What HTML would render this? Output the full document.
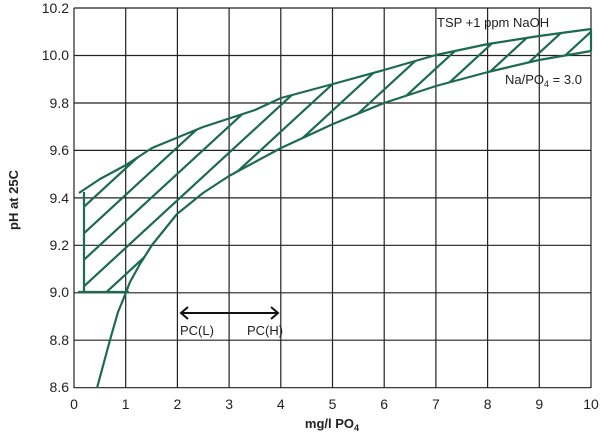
<!DOCTYPE html>
<html><head><style>
html,body{margin:0;background:#fff;overflow:hidden;width:600px;height:436px}
svg{display:block}
svg text{font-family:"Liberation Sans Narrow","Liberation Sans",sans-serif;fill:#222}
</style></head><body>
<svg width="600" height="436" viewBox="0 0 600 436" xmlns="http://www.w3.org/2000/svg">
<defs>
<clipPath id="reg"><path d="M84,292 L84,190 L100,179 L126,165 L152,148 L203,127 L255,110 L281,98 L333,84 L384,70 L436,55 L488,44 L539,36 L591,29 L591,51 L539,60 L488,72 L436,86 L384,103 L333,124 L281,148 L229,176 L203,193 L177,214 L152,245 L136,268 L123,292 Z"/></clipPath>
</defs>
<g stroke="#222" stroke-width="1.2" fill="none">
<path d="M74,8V388M125.7,8V388M177.4,8V388M229.1,8V388M280.8,8V388M332.5,8V388M384.2,8V388M435.9,8V388M487.6,8V388M539.3,8V388M591,8V388"/>
<path d="M74,8H591M74,55.5H591M74,103H591M74,150.4H591M74,197.9H591M74,245.3H591M74,292.8H591M74,340.2H591M74,387.7H591"/>
</g>
<g stroke="#1d6b4f" stroke-width="2.2" fill="none" stroke-linejoin="round">
<polyline points="79,193 100,179 126,165 152,148 203,127 255,110 281,98 333,84 384,70 436,55 488,44 539,36 591,29"/>
<polyline points="97,388 110,340 118,312 123,300 130,282 140,264 152,245 177,214 203,193 229,176 281,148 333,124 384,103 436,86 488,72 539,60 591,51"/>
<path d="M84,292V192M591,29V51M78,292H129"/>
<g clip-path="url(#reg)">
<path d="M0,284L700,-360M0,310.5L700,-333.5M0,337L700,-307M0,363.5L700,-280.5M0,390L700,-254M0,416.5L700,-227.5M0,443L700,-201M0,469.5L700,-174.5M0,496L700,-148M0,522.5L700,-121.5M0,549L700,-95M0,575.5L700,-68.5M0,602L700,-42"/>
</g>
</g>
<g stroke="#111" stroke-width="2" fill="none">
<path d="M181,313H278M188,307L181,313L188,319M271,307L278,313L271,319"/>
</g>
<g font-size="14" text-anchor="end">
<text x="69" y="13">10.2</text><text x="69" y="60">10.0</text><text x="69" y="108">9.8</text>
<text x="69" y="155">9.6</text><text x="69" y="203">9.4</text><text x="69" y="250">9.2</text>
<text x="69" y="297">9.0</text><text x="69" y="345">8.8</text><text x="69" y="392">8.6</text>
</g>
<g font-size="14" text-anchor="middle">
<text x="74" y="409">0</text><text x="125.7" y="409">1</text><text x="177.4" y="409">2</text><text x="229.1" y="409">3</text><text x="280.8" y="409">4</text><text x="332.5" y="409">5</text><text x="384.2" y="409">6</text><text x="435.9" y="409">7</text><text x="487.6" y="409">8</text><text x="539.3" y="409">9</text><text x="591" y="409">10</text>
</g>
<text x="180" y="335" font-size="13">PC(L)</text>
<text x="247" y="335" font-size="13">PC(H)</text>
<text x="437" y="27" font-size="13">TSP +1 ppm NaOH</text>
<text x="505" y="84" font-size="13">Na/PO<tspan font-size="9" dy="3">4</tspan><tspan dy="-3"> = 3.0</tspan></text>
<text x="332" y="428" font-size="13" font-weight="bold" text-anchor="middle">mg/l PO<tspan font-size="9" dy="3">4</tspan></text>
<text transform="translate(18,200) rotate(-90)" font-size="13" font-weight="bold" text-anchor="middle">pH at 25C</text>
</svg>
</body></html>
